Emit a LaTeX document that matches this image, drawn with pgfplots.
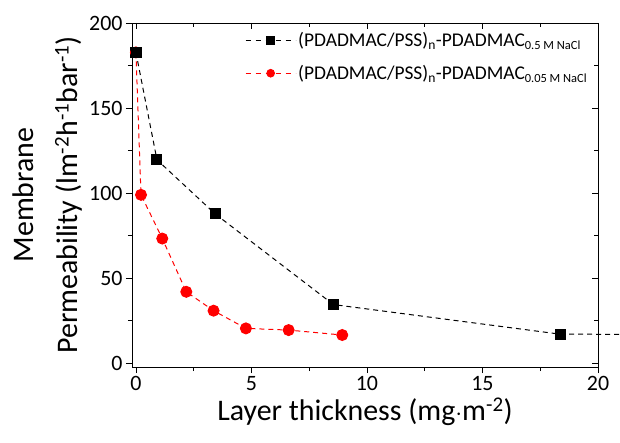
\documentclass[border=0pt]{standalone}
\usepackage{fontspec}
\setmainfont{Carlito}
\usepackage{pgfplots}
\pgfplotsset{compat=1.18}
\usetikzlibrary{calc}

\begin{document}
\begin{tikzpicture}
\pgfplotsset{
  boxaxis/.style={
    width=466bp, height=344bp, scale only axis,
    xmin=-0.17, xmax=20, ymin=-2.2, ymax=200,
    xtick={0,5,10,15,20}, ytick={0,50,100,150,200},
    minor xtick={2.5,7.5,12.5,17.5},
    minor ytick={25,75,125,175},
    major tick length=6bp, minor tick length=4bp,
    every tick/.style={black, line width=0.8pt},
    axis line style={line width=0.8pt},
  },
}
% ticks on top and right, pointing in
\begin{axis}[boxaxis, xtick pos=right, ytick pos=right, tick align=inside,
  xticklabels={}, yticklabels={}]
\end{axis}
\begin{axis}[boxaxis, name=ax, clip=false,
  xtick pos=left, ytick pos=left, tick align=outside,
  /pgf/number format/assume math mode=true,
  tick label style={font=\fontsize{22}{26}\selectfont},
  xlabel={Layer thickness (mg$\cdot$m\textsuperscript{-2})},
  ylabel={Membrane\\Permeability (lm\textsuperscript{-2}h\textsuperscript{-1}bar\textsuperscript{-1})},
  label style={font=\fontsize{30}{44}\selectfont},
  ylabel style={align=center},
  legend style={at={(0.236,0.984)}, anchor=north west, draw=none, fill=none,
    font=\fontsize{19.5}{22}\selectfont, row sep=13bp,
    legend cell align=left},
  legend image code/.code={\draw[mark repeat=2,mark phase=2,#1,mark size=3.8bp,
    dash pattern=on 5bp off 5bp]
    plot coordinates {(0bp,0bp) (25bp,0bp) (50bp,0bp)};},
]
\addplot[black, line width=1pt, dash pattern=on 5bp off 4bp,
  mark=square*, mark size=5bp, mark options={solid}] coordinates {
  (0,182.7) (0.91,119.6) (3.43,87.8) (8.55,34.5) (18.36,17.1)
};
\addlegendentry{(PDADMAC/PSS)\textsubscript{n}-PDADMAC{\fontsize{12.5}{14}\selectfont\raisebox{-0.45ex}{0.5 M NaCl}}}
\addplot[red, line width=1pt, dash pattern=on 5bp off 4bp,
  mark=*, mark size=5.5bp, mark options={solid}] coordinates {
  (0,182.7) (0.22,99) (1.14,73.3) (2.18,42) (3.36,30.9) (4.76,20.5) (6.61,19.5) (8.93,16.6)
};
\addlegendentry{(PDADMAC/PSS)\textsubscript{n}-PDADMAC{\fontsize{12.5}{14}\selectfont\raisebox{-0.45ex}{0.05 M NaCl}}}
\addplot[black, line width=1pt, dash pattern=on 5bp off 4bp, forget plot]
  coordinates {(18.36,17.1) (21.2,17.0)};
% black mark at the origin drawn over the red one
\addplot[black, only marks, mark=square*, mark size=5bp, forget plot]
  coordinates {(0,182.7)};
\end{axis}
\pgfresetboundingbox
\path[use as bounding box] ($(ax.south west)+(-132bp,-76bp)$) rectangle ($(ax.north east)+(22bp,23bp)$);
\end{tikzpicture}
\end{document}
